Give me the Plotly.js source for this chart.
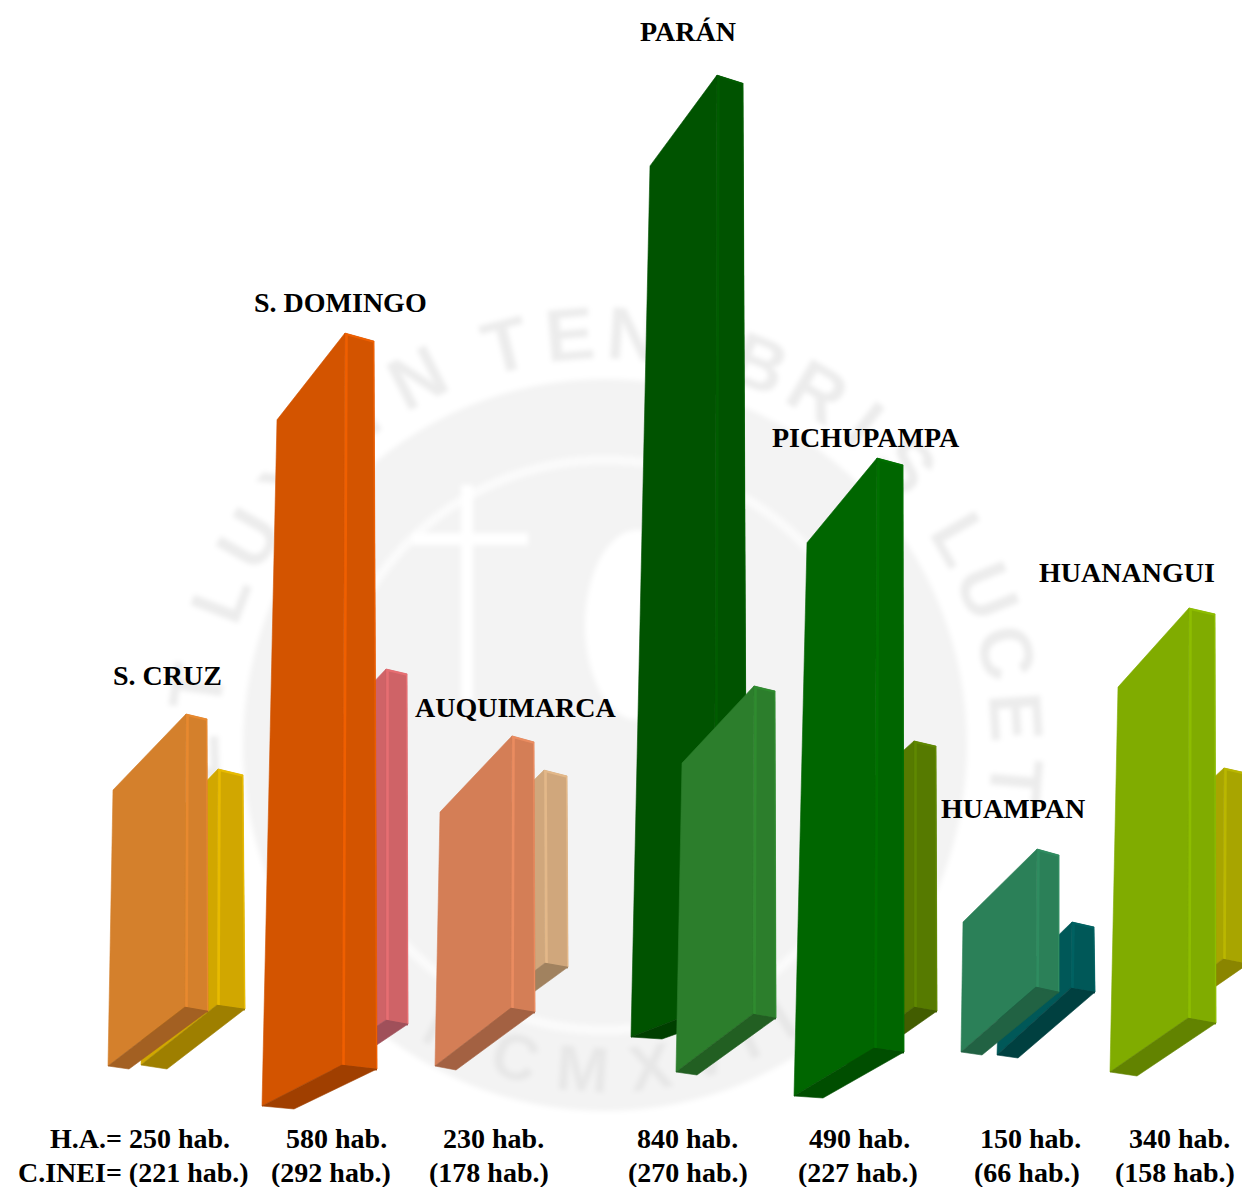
<!DOCTYPE html>
<html><head><meta charset="utf-8">
<script src="https://cdn.plot.ly/plotly-3.0.1.min.js"></script>
<style>
html,body{margin:0;padding:0;background:#fff;overflow:hidden}
#seal,#chart{position:absolute;left:0;top:0;width:1242px;height:1187px}
#seal{filter:blur(2.5px)}
</style></head><body>
<div id="seal"></div><div id="chart"></div>
<script>
// ---- values ----
const categories = ["S. CRUZ","S. DOMINGO","AUQUIMARCA","PARÁN","PICHUPAMPA","HUAMPAN","HUANANGUI"];
const habitantesHA = [250,580,230,840,490,150,340];
const habitantesINEI = [221,292,178,270,227,66,158];

// ---- placement of the perspective bars (pixel space of the hidden axes) ----
// foot corners: L = left, F = front, M = mid, R = right
const haFootL=[[108,1066],[262,1106],[435,1066],[631,1037],[794,1096],[961,1052],[1110,1072]];
const haFootF=[[129,1069],[294,1109],[456,1070],[662,1039],[823,1098],[982,1055],[1137,1076]];
const haFootM=[[185,1007],[342,1065],[511,1008],[714,1005],[874,1048],[1036,987],[1188,1018]];
const haFootR=[[208,1011],[377,1069],[535,1012],[747,1009],[904,1052],[1059,992],[1216,1023]];
const haTopX=[[113,186,207],[277,345,374],[440,512,534],[650,717,743],[807,877,903],[963,1037,1059],[1118,1189,1215]];
const haRise=[[1.104,1.172,1.168],[1.183,1.262,1.255],[1.104,1.183,1.174],[1.037,1.107,1.102],[1.129,1.204,1.198],[0.867,0.92,0.913],[1.132,1.206,1.203]];
const inFootL=[[141,1065],[316,1066],[469,1021],[676,1072],[838,1063],[997,1055],[1148,1015]];
const inFootF=[[167,1069],[338,1071],[490,1024],[697,1075],[860,1065],[1018,1058],[1170,1018]];
const inFootM=[[217,1005],[386,1020],[545,963],[753,1014],[914,1007],[1071,988],[1223,959]];
const inFootR=[[245,1009],[408,1024],[568,967],[776,1018],[937,1011],[1095,992],[1248,964]];
const inTopX=[[146,218,243],[323,386,407],[474,544,567],[682,754,775],[843,914,936],[999,1072,1094],[1152,1224,1246]];
const inRise=[[1.0,1.068,1.059],[1.13,1.202,1.199],[1.02,1.084,1.073],[1.144,1.215,1.211],[1.137,1.172,1.167],[0.94,1.0,0.985],[1.14,1.209,1.209]];

const haFace=["#D4802C","#D35400","#D47E56","#005300","#006600","#2B8058","#80AC00"];
const haEdge=["#E8892F","#EF5F00","#EA8C60","#005C00","#007000","#2F8C60","#8DBD00"];
const haBase=["#A36022","#A03F00","#A36142","#003F00","#004E00","#216243","#628300"];
const inFace=["#D1A700","#CF6367","#D0A77C","#2C7E2C","#567A00","#005858","#A8A500"];
const inEdge=["#E8BB00","#E66E72","#E3B889","#2F8B2F","#5F8800","#006161","#BAB700"];
const inBase=["#9E7F00","#A0505A","#A1825F","#225F22","#425D00","#004040","#8A8500"];
const ineiInFront=[false,false,false,true,false,false,false];

const labelX=[167,340,515,688,866,1013,1127];
const labelY=[675,302,707,31,437,808,572];
const haTextX=[140,336,493,687,859,1030,1179];
const inTextX=[133,331,489,688,858,1027,1175];
const rowY=[1138,1172];

// ---- seal behind the chart ----
const mottoLetters=["E","T","L","U","X","I","N","T","E","N","E","B","R","I","S","L","U","C","E","T"];
const mottoAngles=[-92,-82,-69,-60,-50,-36,-27,-14,-5,4,13,22,31,39,47,60,68,77,86,95];
const yearLetters=["M","C","M","X","V","I","I"];
const yearAngles=[-28,-16,-4,8,18,26,33];

const traces=[];
function poly(xs,ys,color,width,lineColor,fill){
  traces.push({type:"scatter",mode:"lines",x:xs,y:ys,fill:fill?"toself":"none",fillcolor:color,
    line:{color:lineColor||color,width:width===undefined?0.6:width},hoverinfo:"skip",showlegend:false});
}
function bar(v,L,F,M,R,tx,rise,face,edge,base){
  const tl=[tx[0],L[1]-v*rise[0]], tm=[tx[1],M[1]-v*rise[1]], tr=[tx[2],R[1]-v*rise[2]];
  poly([tl[0],tm[0],M[0],L[0],tl[0]],[tl[1],tm[1],M[1],L[1],tl[1]],face,0.6,null,true);
  poly([L[0],F[0],R[0],M[0],L[0]],[L[1],F[1],R[1],M[1],L[1]],base,0.6,null,true);
  poly([tm[0],tr[0],R[0],M[0],tm[0]],[tm[1],tr[1],R[1],M[1],tm[1]],face,0.6,null,true);
  poly([M[0]+1.5,tm[0]+1.5],[M[1],tm[1]+1],edge,2.6,edge,false);
  poly([tm[0],tr[0]],[tm[1]+0.8,tr[1]+0.8],edge,2,edge,false);
  poly([tr[0]-0.4,R[0]-0.4],[tr[1],R[1]],edge,1.2,edge,false);
  poly([M[0],R[0]],[M[1]+0.6,R[1]+0.6],base,1.6,base,false);
}
categories.forEach((c,i)=>{
  const drawHA=()=>bar(habitantesHA[i],haFootL[i],haFootF[i],haFootM[i],haFootR[i],haTopX[i],haRise[i],haFace[i],haEdge[i],haBase[i]);
  const drawIN=()=>bar(habitantesINEI[i],inFootL[i],inFootF[i],inFootM[i],inFootR[i],inTopX[i],inRise[i],inFace[i],inEdge[i],inBase[i]);
  if(ineiInFront[i]){drawHA();drawIN();}else{drawIN();drawHA();}
});

const font={family:"Liberation Serif, serif",size:28,color:"#000"};
const annotations=[];
function label(t,x,y){annotations.push({text:"<b>"+t+"</b>",x,y,xref:"x",yref:"y",showarrow:false,xanchor:"center",yanchor:"middle",font});}
categories.forEach((c,i)=>{
  label(c,labelX[i],labelY[i]);
  label((i===0?"H.A.= ":"")+habitantesHA[i]+" hab.",haTextX[i],rowY[0]);
  label((i===0?"C.INEI= ":"")+"("+habitantesINEI[i]+" hab.)",inTextX[i],rowY[1]);
});

const axis={range:[0,1242],visible:false,fixedrange:true};
const yaxis={range:[1187,0],visible:false,fixedrange:true};
const baseLayout={width:1242,height:1187,margin:{l:0,r:0,t:0,b:0},showlegend:false,
  paper_bgcolor:"rgba(0,0,0,0)",plot_bgcolor:"rgba(0,0,0,0)",xaxis:axis,yaxis:yaxis};

// seal layer
const sealCx=605, sealCy=745;
const sealNotes=[];
function sealLetter(t,deg,r,size,col,bottom){
  const a=deg*Math.PI/180;
  const x=sealCx+(bottom?Math.sin(-a)*-1:Math.sin(a))*r;
  const y=bottom?sealCy+Math.cos(a)*r:sealCy-Math.cos(a)*r;
  sealNotes.push({text:"<b>"+t+"</b>",x,y,xref:"x",yref:"y",showarrow:false,textangle:bottom?-deg:deg,
    font:{family:"Liberation Sans, sans-serif",size,color:col}});
}
mottoLetters.forEach((t,i)=>sealLetter(t,mottoAngles[i],412,74,"#ECECEC",false));
yearLetters.forEach((t,i)=>sealLetter(t,yearAngles[i],325,64,"#E7E7E7",true));
const sealShapes=[
  {type:"circle",xref:"x",yref:"y",x0:sealCx-362,x1:sealCx+362,y0:sealCy-366,y1:sealCy+366,fillcolor:"#F3F3F3",line:{width:0},layer:"below"},
  {type:"circle",xref:"x",yref:"y",x0:sealCx-280,x1:sealCx+280,y0:sealCy-285,y1:sealCy+285,fillcolor:"rgba(0,0,0,0)",line:{width:9,color:"#FBFBFB"},layer:"below"},
  {type:"rect",xref:"x",yref:"y",x0:461,x1:473,y0:485,y1:700,fillcolor:"#FFFFFF",line:{width:0},layer:"below"},
  {type:"rect",xref:"x",yref:"y",x0:412,x1:528,y0:533,y1:545,fillcolor:"#FFFFFF",line:{width:0},layer:"below"},
  {type:"circle",xref:"x",yref:"y",x0:585,x1:690,y0:530,y1:720,fillcolor:"#FFFFFF",line:{width:0},layer:"below"}
];
Plotly.newPlot("seal",[{type:"scatter",mode:"none",x:[0],y:[0],hoverinfo:"skip",showlegend:false}],
  Object.assign({},baseLayout,{paper_bgcolor:"#fff",shapes:sealShapes,annotations:sealNotes}),{staticPlot:true,displayModeBar:false});
Plotly.newPlot("chart",traces,Object.assign({},baseLayout,{annotations}),{staticPlot:true,displayModeBar:false});
</script>
</body></html>
